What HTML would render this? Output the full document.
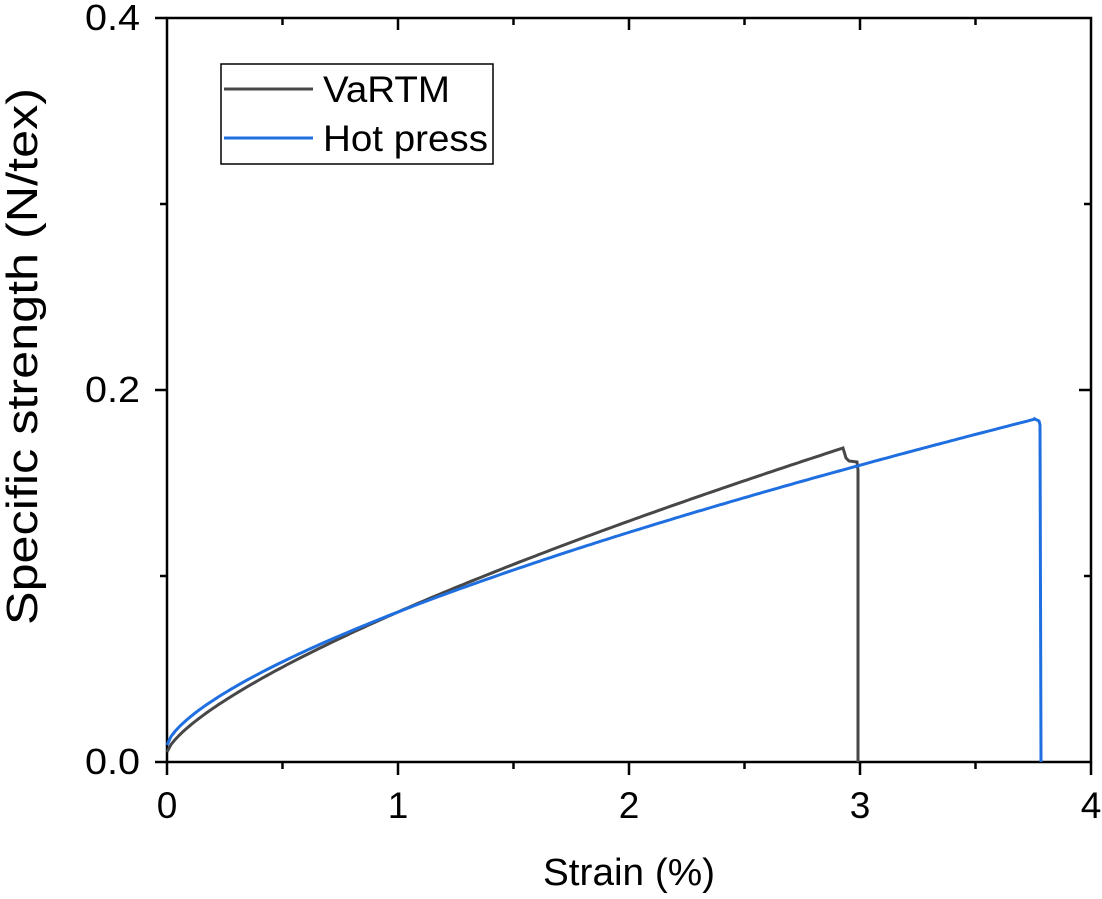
<!DOCTYPE html>
<html><head><meta charset="utf-8"><style>
body{margin:0;background:#fff}
svg text{font-family:"Liberation Sans",Arial,sans-serif;fill:#000}
</style></head><body>
<svg id="s" width="1102" height="894" viewBox="0 0 1102 894" xmlns="http://www.w3.org/2000/svg">
<rect width="1102" height="894" fill="#fff"/>
<g stroke="#000" stroke-width="2.5" fill="none">
<rect x="167" y="18" width="924" height="744"/>
<path d="M167 762v13M398 762v13M629 762v13M860 762v13M1091 762v13M282.5 762v7M513.5 762v7M744.5 762v7M975.5 762v7"/>
<path d="M398 18v12M629 18v12M860 18v12M282.5 18v7M513.5 18v7M744.5 18v7M975.5 18v7"/>
<path d="M167 762h-12M167 390h-12M167 18h-12M167 576h-7M167 204h-7"/>
<path d="M1091 390h-12M1091 576h-7M1091 204h-7"/>
</g>
<g font-size="37" text-anchor="middle">
<text x="167" y="818">0</text><text x="398" y="818">1</text><text x="629" y="818">2</text><text x="860" y="818">3</text><text x="1091" y="818">4</text>
</g>
<g font-size="36">
<text x="85" y="774" textLength="55" lengthAdjust="spacingAndGlyphs">0.0</text>
<text x="85" y="402" textLength="55" lengthAdjust="spacingAndGlyphs">0.2</text>
<text x="85" y="30" textLength="55" lengthAdjust="spacingAndGlyphs">0.4</text>
</g>
<text x="543" y="885" font-size="38" textLength="172" lengthAdjust="spacingAndGlyphs">Strain (%)</text>
<text transform="translate(37,625) rotate(-90)" font-size="44" textLength="537" lengthAdjust="spacingAndGlyphs">Specific strength (N/tex)</text>
<rect x="221" y="64" width="272" height="100" fill="#fff" stroke="#000" stroke-width="1.5"/>
<path d="M224 89H313" stroke="#474747" stroke-width="3"/>
<path d="M224 138H313" stroke="#1f6fe0" stroke-width="3"/>
<text x="323" y="102" font-size="37" textLength="127" lengthAdjust="spacingAndGlyphs">VaRTM</text>
<text x="323" y="151" font-size="37" textLength="165" lengthAdjust="spacingAndGlyphs">Hot press</text>
<path id="v" fill="none" stroke="#474747" stroke-width="3"/>
<path id="h" fill="none" stroke="#1f6fe0" stroke-width="3"/>
</svg>
<script>
function curve(d0,c,p,x1){let s="";for(let x=167;x<=x1;x+=4){let d=d0+c*Math.pow(x-167,p);s+=(s?"L":"M")+x+" "+(762-d).toFixed(1);}return s;}
var pv=0.722,cv=140/Math.pow(231,pv);
document.getElementById('v').setAttribute('d',curve(10,cv,pv,843)+"L843 448L846 458L849 461L857 462L858 470L858 762");
var ph=0.677,ch=133/Math.pow(231,ph);
document.getElementById('h').setAttribute('d',curve(17,ch,ph,1035)+"L1035 419L1039 421L1040 425L1041 762");
</script>
</body></html>
